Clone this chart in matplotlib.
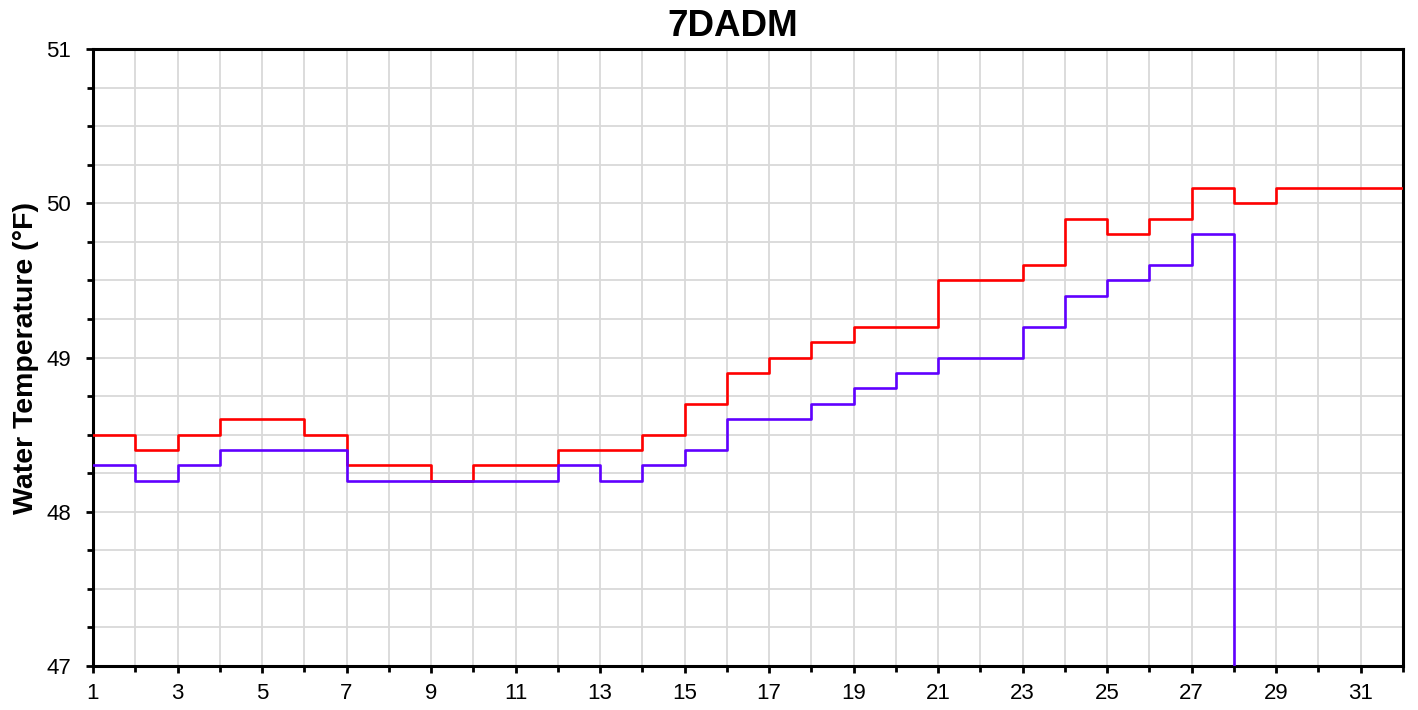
import matplotlib
matplotlib.use("Agg")
import matplotlib.pyplot as plt
from matplotlib.ticker import MultipleLocator

days = list(range(1, 32))
red_values = [48.5, 48.4, 48.5, 48.6, 48.6, 48.5, 48.3, 48.3, 48.2, 48.3,
              48.3, 48.4, 48.4, 48.5, 48.7, 48.9, 49.0, 49.1, 49.2, 49.2,
              49.5, 49.5, 49.6, 49.9, 49.8, 49.9, 50.1, 50.0, 50.1, 50.1, 50.1]
blue_days = list(range(1, 29))
blue_values = [48.3, 48.2, 48.3, 48.4, 48.4, 48.4, 48.2, 48.2, 48.2, 48.2,
               48.2, 48.3, 48.2, 48.3, 48.4, 48.6, 48.6, 48.7, 48.8, 48.9,
               49.0, 49.0, 49.2, 49.4, 49.5, 49.6, 49.8, 47.0]
title = "7DADM"
ylabel = "Water Temperature (°F)"

plt.rcParams['font.family'] = ['Liberation Sans', 'DejaVu Sans']

W, H = 1418, 710
fig = plt.figure(figsize=(W / 100, H / 100), dpi=100)
ax = fig.add_axes([93 / W, 1 - 666 / H, (1403 - 93) / W, (666 - 49) / H])

# red: extend last step to end of month
rx = days + [days[-1] + 1]
ry = red_values + [red_values[-1]]
ax.step(rx, ry, where='post', color='#FF0000', lw=1.9, zorder=3)
ax.step(blue_days, blue_values, where='post', color='#6000FF', lw=1.9, zorder=3)

ax.set_xlim(1, 32)
ax.set_ylim(47, 51)
ax.xaxis.set_major_locator(MultipleLocator(2, offset=1))
ax.xaxis.set_minor_locator(MultipleLocator(1))
ax.yaxis.set_major_locator(MultipleLocator(1))
ax.yaxis.set_minor_locator(MultipleLocator(0.25))
ax.grid(True, which='both', color='#D9D9D9', lw=1.3, zorder=0)
ax.set_axisbelow(True)

for s in ax.spines.values():
    s.set_linewidth(2.2)
    s.set_color('black')

ax.tick_params(which='major', direction='out', length=5, width=2, labelsize=16, colors='black')
ax.tick_params(which='minor', direction='out', length=4, width=2)
ax.tick_params(axis='y', which='major', pad=11)
ax.tick_params(axis='x', which='major', pad=7.5)

fig.text(733 / W, 1 - 36 / H, title, fontsize=26.5, fontweight='bold',
         ha='center', va='baseline')
ax.set_ylabel(ylabel, fontsize=20.5, fontweight='bold', labelpad=5)

fig.savefig("out.png", dpi=100)
